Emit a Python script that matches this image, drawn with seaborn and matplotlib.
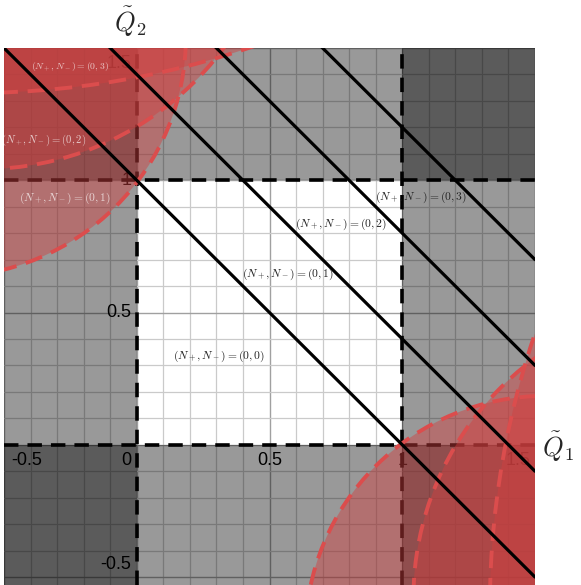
import numpy as np
import pandas as pd
import matplotlib
matplotlib.use('Agg')
import matplotlib.pyplot as plt
from matplotlib.patches import Circle
import seaborn as sns

# View window and the unit box
x_range = (-0.5, 1.5)
y_range = (-0.53, 1.5)
box = (0.0, 1.0)

# Diagonal lines Q1 + Q2 = c
line_levels = [1.0, 1.4, 1.8, 2.2]

# Red discs: centres and radii
disc_centers = [(-0.72, 1.54), (-0.58, 2.17), (-0.616, 4.58),
                (1.54, -0.72), (2.17, -0.58), (4.58, -0.616)]
disc_radii = [0.905, 1.128, 3.25, 0.905, 1.128, 3.25]

# Region labels
inner_labels = ['(0,0)', '(0,1)', '(0,2)', '(0,3)']
inner_pos = [(0.31, 0.335), (0.57, 0.645), (0.77, 0.835), (1.07, 0.935)]
outer_labels = ['(0,1)', '(0,2)', '(0,3)']
outer_pos = [(-0.27, 0.93), (-0.35, 1.15), (-0.25, 1.425)]
outer_sizes = [8.3, 7.7, 7.0]

# Tick labels
xtick_vals = [-0.5, 0, 0.5, 1, 1.5]
ytick_vals = [-0.5, 0.5, 1, 1.5]

sns.set_style('white')
plt.rcParams['font.family'] = ['Liberation Sans', 'DejaVu Sans']
plt.rcParams['mathtext.fontset'] = 'cm'

fig = plt.figure(figsize=(5.81, 5.85), dpi=100)
ax = fig.add_axes([4 / 581, 0, 531 / 581, 537 / 585])
ax.set_xlim(*x_range)
ax.set_ylim(*y_range)
for s in ax.spines.values():
    s.set_visible(False)

# grid: fine every 0.1, a little darker every 0.5
ax.set_xticks(np.arange(-0.5, 1.51, 0.5))
ax.set_yticks(np.arange(-0.5, 1.51, 0.5))
ax.set_xticks(np.arange(-0.5, 1.51, 0.1), minor=True)
ax.set_yticks(np.arange(-0.5, 1.51, 0.1), minor=True)
ax.tick_params(which='both', length=0, labelbottom=False, labelleft=False)
ax.grid(which='minor', color='#cacaca', lw=0.9, zorder=0)
ax.grid(which='major', color='#a0a0a0', lw=1.0, zorder=0)
ax.set_axisbelow(True)

# gray shading outside the unit box (layers stack in the corners)
ax.axvspan(x_range[0], box[0], color='black', alpha=0.4, lw=0, zorder=1)
ax.axvspan(box[1], x_range[1], color='black', alpha=0.4, lw=0, zorder=1)
ax.axhspan(y_range[0], box[0], color='black', alpha=0.4, lw=0, zorder=1)
ax.axhspan(box[1], y_range[1], color='black', alpha=0.4, lw=0, zorder=1)

# dashed box edges
for v in box:
    ax.axvline(v, color='black', lw=2.6, ls=(0, (4, 2.5)), zorder=2)
    ax.axhline(v, color='black', lw=2.6, ls=(0, (4, 2.5)), zorder=2)

# tick labels
tick_kw = dict(fontsize=13, color='black', zorder=2)
for v in xtick_vals:
    lab = f'{v:g}'
    if v == x_range[0]:
        ax.annotate(lab, (v, 0), xytext=(5, -5), textcoords='offset points',
                    ha='left', va='top', **tick_kw)
    elif v == 0:
        ax.annotate(lab, (v, 0), xytext=(-4, -5), textcoords='offset points',
                    ha='right', va='top', **tick_kw)
    elif v == x_range[1]:
        ax.annotate(lab, (v, 0), xytext=(-3, -5), textcoords='offset points',
                    ha='right', va='top', **tick_kw)
    else:
        ax.annotate(lab, (v, 0), xytext=(0, -5), textcoords='offset points',
                    ha='center', va='top', **tick_kw)
for v in ytick_vals:
    lab = f'{v:g}'
    dy = 0
    if v == y_range[1]:
        dy = -11
    elif v == -0.5:
        dy = 9
    ax.annotate(lab, (0, v), xytext=(-4, dy), textcoords='offset points',
                ha='right', va='center', **tick_kw)

# red discs with dashed rims
for (cx, cy), r in zip(disc_centers, disc_radii):
    ax.add_patch(Circle((cx, cy), r, facecolor=(0.82, 0.25, 0.25, 0.45),
                        edgecolor='none', zorder=3))
    ax.add_patch(Circle((cx, cy), r, facecolor='none',
                        edgecolor=(0.86, 0.3, 0.3, 1.0), lw=2.8,
                        ls=(0, (4.5, 2.5)), zorder=3.5))

# labels on the red discs
for lab, (x, y), fs in zip(outer_labels, outer_pos, outer_sizes):
    ax.text(x, y, r'$(N_+,N_-)=' + lab + '$', fontsize=fs, color='white',
            alpha=0.7, ha='center', va='center', zorder=3.6)

# diagonal lines
rows = []
for c in line_levels:
    for x in x_range:
        rows.append({'x': x, 'y': c - x, 'level': c})
lines = pd.DataFrame(rows)
sns.lineplot(data=lines, x='x', y='y', hue='level', units='level',
             estimator=None, palette=['black'] * len(line_levels),
             lw=2.3, legend=False, ax=ax, zorder=4)
ax.set_xlim(*x_range)
ax.set_ylim(*y_range)
ax.set_xlabel('')
ax.set_ylabel('')

# labels in the white box
for lab, (x, y) in zip(inner_labels, inner_pos):
    ax.text(x, y, r'$(N_+,N_-)=' + lab + '$', fontsize=8.3, color='#222222',
            ha='center', va='center', zorder=5)

# axis names
fig.text(130 / 581, 1 - 22 / 585, r'$\tilde{Q}_2$', fontsize=19,
         ha='center', va='center')
fig.text(558 / 581, 1 - 447 / 585, r'$\tilde{Q}_1$', fontsize=19,
         ha='center', va='center')

fig.savefig('out.png', dpi=100)
